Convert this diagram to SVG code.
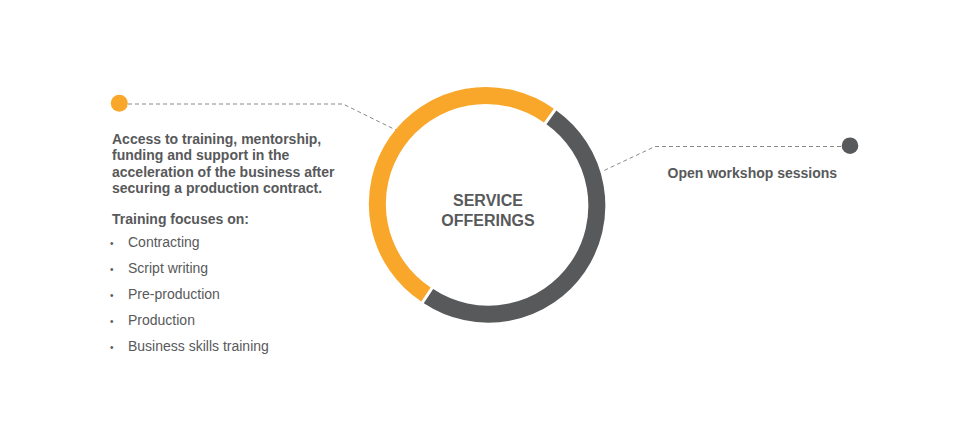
<svg xmlns="http://www.w3.org/2000/svg" width="960" height="447" viewBox="0 0 960 447">
<style>
.t{font-family:"Liberation Sans",Arial,sans-serif;fill:#58595b;font-size:14px}
.b{font-weight:bold}
.conn{fill:none;stroke:#8a8a8a;stroke-width:1;stroke-dasharray:4 3}
.ring{fill:none;stroke-width:17}
</style>
<rect width="960" height="447" fill="#ffffff"/>
<g id="connectors">
<polyline class="conn" points="128,104 343,104 400,132"/>
<polyline class="conn" points="841,146.5 655,146.5 603,171"/>
</g>
<g id="center">
<path class="ring" stroke="#f9a72b" d="M548.9,115.7 A108.5,108.5 0 1 0 426,294.5"/>
<path class="ring" stroke="#58595b" d="M551.4,117.4 A108.5,108.5 0 0 1 428.5,296.2"/>
<text class="t b" font-size="16" text-anchor="middle" x="488" y="206" style="font-size:16px">SERVICE</text>
<text class="t b" text-anchor="middle" x="488" y="225.5" style="font-size:16px">OFFERINGS</text>
</g>
<g id="left-node">
<circle cx="119.3" cy="103.3" r="8.5" fill="#f9a72b"/>
<text class="t b" x="112" y="143.5">Access to training, mentorship,</text>
<text class="t b" x="112" y="160">funding and support in the</text>
<text class="t b" x="112" y="176.5">acceleration of the business after</text>
<text class="t b" x="112" y="193">securing a production contract.</text>
<text class="t b" x="112" y="224">Training focuses on:</text>
<text class="t" x="110" y="246.5" style="font-size:10px">•</text>
<text class="t" x="128" y="247">Contracting</text>
<text class="t" x="110" y="272.5" style="font-size:10px">•</text>
<text class="t" x="128" y="273">Script writing</text>
<text class="t" x="110" y="298.5" style="font-size:10px">•</text>
<text class="t" x="128" y="299">Pre-production</text>
<text class="t" x="110" y="324.5" style="font-size:10px">•</text>
<text class="t" x="128" y="325">Production</text>
<text class="t" x="110" y="350.5" style="font-size:10px">•</text>
<text class="t" x="128" y="351">Business skills training</text>
</g>
<g id="right-node">
<circle cx="850" cy="145.7" r="8.3" fill="#58595b"/>
<text class="t b" x="667.5" y="178">Open workshop sessions</text>
</g>
</svg>
